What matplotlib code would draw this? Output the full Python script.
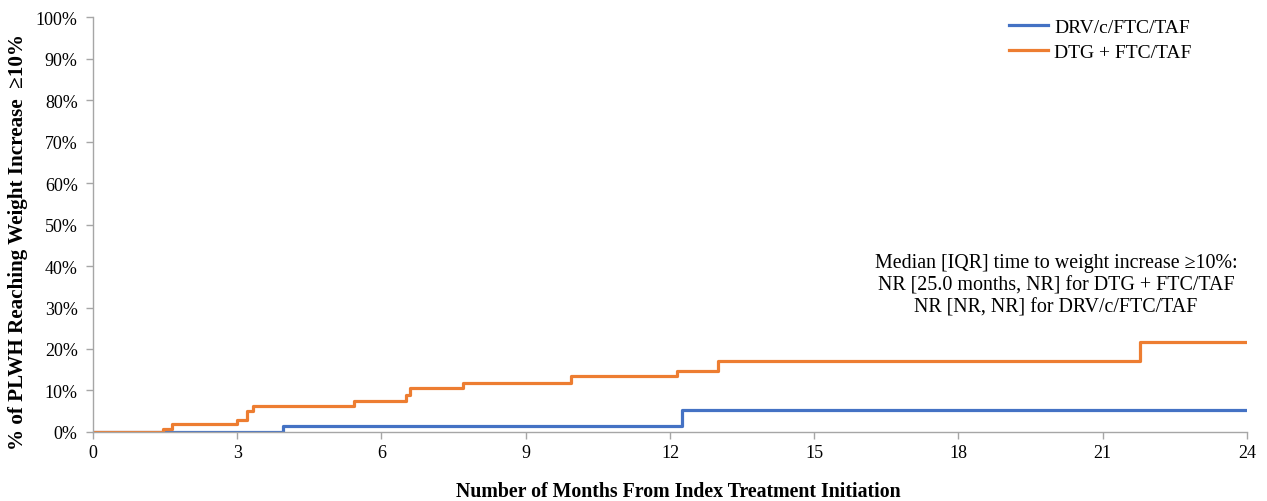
import matplotlib
matplotlib.use("Agg")
import matplotlib.pyplot as plt
from matplotlib.ticker import PercentFormatter, MultipleLocator

plt.rcParams['font.family'] = ['Liberation Serif', 'DejaVu Serif']

# Data (months, cumulative %)
drv_t = [0, 3.96, 12.26, 24]
drv_y = [0, 1.5, 5.4, 5.4]
dtg_t = [0, 1.45, 1.64, 2.99, 3.20, 3.33, 5.43, 6.52, 6.59, 7.70, 9.94, 12.14, 12.99, 21.78, 24]
dtg_y = [0, 0.7, 1.9, 3.0, 5.1, 6.2, 7.4, 8.9, 10.7, 11.9, 13.5, 14.8, 17.0, 21.6, 21.6]

series_names = ["DRV/c/FTC/TAF", "DTG + FTC/TAF"]
x_ticks = list(range(0, 25, 3))

fig = plt.figure(figsize=(12.67, 5.02), dpi=100)
ax = fig.add_axes([0.0734, 0.1375, 0.9108, 0.8265])

ax.plot(drv_t, drv_y, drawstyle='steps-post', color='#4472C4', lw=2.3, label=series_names[0])
ax.plot(dtg_t, dtg_y, drawstyle='steps-post', color='#ED7D31', lw=2.3, label=series_names[1])

ax.set_xlim(0, 24)
ax.set_ylim(0, 100)
ax.set_xticks(x_ticks)
ax.yaxis.set_major_locator(MultipleLocator(10))
ax.yaxis.set_major_formatter(PercentFormatter(decimals=0))

for s in ['top', 'right']:
    ax.spines[s].set_visible(False)
for s in ['left', 'bottom']:
    ax.spines[s].set_color('#A6A6A6')
    ax.spines[s].set_linewidth(1.0)
ax.tick_params(axis='both', colors='#A6A6A6', labelcolor='black', labelsize=13, length=5, width=1.0)
ax.tick_params(axis='x', pad=4)
ax.tick_params(axis='y', pad=6)

ax.set_xlabel("Number of Months From Index Treatment Initiation", fontsize=14.3, fontweight='bold')
ax.xaxis.set_label_coords(0.507, -0.1427)
ax.xaxis.label.set_va('center')
ax.set_ylabel("% of PLWH Reaching Weight Increase  \u226510%", fontsize=15.2, fontweight='bold')
ax.yaxis.set_label_coords(-0.065, 0.461)
ax.yaxis.label.set_va('center')

ax.legend(loc='upper right', frameon=False, fontsize=14, handlelength=2.0, handletextpad=0.3,
          bbox_to_anchor=(0.967, 1.04), labelspacing=0.4)

ax.text(0.8345, 0.355, "Median [IQR] time to weight increase \u226510%:\nNR [25.0 months, NR] for DTG + FTC/TAF\nNR [NR, NR] for DRV/c/FTC/TAF",
        transform=ax.transAxes, ha='center', va='center', fontsize=14.4, linespacing=1.21)

fig.savefig("out.png", dpi=100)
